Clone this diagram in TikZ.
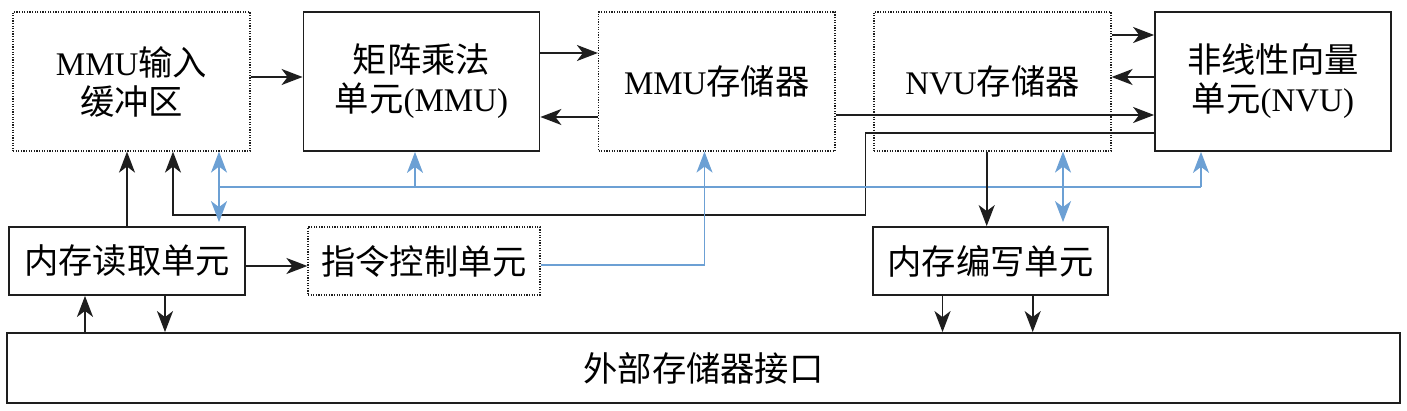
\documentclass[tikz,border=0pt]{standalone}
\usepackage{fontspec}
\setmainfont{Liberation Serif}
\newfontfamily\cjk[Scale=1.04]{Noto Sans CJK SC}
\usetikzlibrary{arrows.meta}
\definecolor{lblue}{RGB}{108,160,212}
\definecolor{dk}{RGB}{30,30,30}
\tikzset{
  solidbox/.style={draw=dk, line width=1.8pt, rectangle, inner sep=0pt, align=center, font=\fontsize{33}{39}\selectfont},
  dotbox/.style={solidbox, line width=1.2pt, dash pattern=on 1.2pt off 1.4pt},
  arr/.style={draw=dk, line width=1.8pt, -{Stealth[length=21pt,width=16pt,inset=6pt]}},
  barr/.style={draw=lblue, line width=1.8pt, -{Stealth[length=21pt,width=16pt,inset=6pt]}},
  bbarr/.style={draw=lblue, line width=1.8pt, {Stealth[length=21pt,width=16pt,inset=6pt]}-{Stealth[length=21pt,width=16pt,inset=6pt]}},
  bline/.style={draw=lblue, line width=1.8pt},
}
\begin{document}
\begin{tikzpicture}[x=1pt,y=-1pt]
\useasboundingbox (0,0) rectangle (1407,411);
\node[dotbox, minimum width=237pt, minimum height=139pt] (mmuin) at (131.5,81.5) {MMU{\cjk 输入}\\{\cjk 缓冲区}};
\node[solidbox, minimum width=236pt, minimum height=139pt] (mmu) at (421.5,81.5) {{\cjk 矩阵乘法}\\{\cjk 单元}(MMU)};
\node[dotbox, minimum width=236.5pt, minimum height=139pt] (mmumem) at (716.75,81.5) {MMU{\cjk 存储器}};
\node[dotbox, minimum width=237pt, minimum height=139pt] (nvumem) at (992.5,81.5) {NVU{\cjk 存储器}};
\node[solidbox, minimum width=236pt, minimum height=139pt] (nvu) at (1273,81.5) {{\cjk 非线性向量}\\{\cjk 单元}(NVU)};
\node[solidbox, minimum width=236pt, minimum height=68pt] (rd) at (127,261) {\cjk 内存读取单元};
\node[dotbox, minimum width=232pt, minimum height=68pt] (ctrl) at (424,261) {\cjk 指令控制单元};
\node[solidbox, minimum width=235pt, minimum height=68pt] (wr) at (990.5,261) {\cjk 内存编写单元};
\node[solidbox, minimum width=1393pt, minimum height=70pt] (ext) at (703.5,368) {\cjk 外部存储器接口};
% top row
\draw[arr] ([yshift=4.5pt]mmuin.east) -- ([yshift=4.5pt]mmu.west);
\draw[arr] ([yshift=28.5pt]mmu.east) -- ([yshift=28.5pt]mmumem.west);
\draw[arr] ([yshift=-35.5pt]mmumem.west) -- ([yshift=-35.5pt]mmu.east);
\draw[arr] ([yshift=46.5pt]nvumem.east) -- ([yshift=46.5pt]nvu.west);
\draw[arr] ([yshift=4.5pt]nvu.west) -- ([yshift=4.5pt]nvumem.east);
\draw[arr] ([yshift=-33.5pt]mmumem.east) -- ([yshift=-33.5pt]nvu.west);
% feedback from NVU to MMU input
\coordinate (g1) at (865.5,215);
\draw[arr] ([yshift=-51.5pt]nvu.west) -| (g1) -| ([xshift=41.5pt]mmuin.south);
% read unit to mmu input
\draw[arr] (rd.north) -- (rd.north |- mmuin.south);
% blue bus
\coordinate (b0) at (219,187);
\coordinate (b1) at (1201,187);
\draw[bbarr] ([xshift=87.5pt]mmuin.south) -- ([xshift=87.5pt,yshift=4pt]mmuin.south |- rd.north);
\draw[bline] (b0) -- (b1);
\draw[barr] (b1) -- (b1 |- nvu.south);
\draw[barr] ([xshift=-6.5pt]mmu.south |- b0) -- ([xshift=-6.5pt]mmu.south);
% control to MMU memory
\coordinate (c1) at (704.5,265);
\draw[barr] ([yshift=-4pt]ctrl.east) -- (c1) -- (c1 |- mmumem.south);
% read to control
\draw[arr] ([yshift=-5pt]rd.east) -- ([yshift=-5pt]ctrl.west);
% NVU memory to write unit
\draw[arr] ([xshift=-5.8pt]nvumem.south) -- ([xshift=-5.8pt]nvumem.south |- wr.north);
\draw[bbarr] ([xshift=70.5pt]nvumem.south) -- ([xshift=70.5pt,yshift=4pt]nvumem.south |- wr.north);
% external interface
\draw[arr] ([xshift=-42pt]rd.south |- ext.north) -- ([xshift=-42pt]rd.south);
\draw[arr] ([xshift=38pt]rd.south) -- ([xshift=38pt]rd.south |- ext.north);
\draw[arr] ([xshift=-48pt]wr.south) -- ([xshift=-48pt]wr.south |- ext.north);
\draw[arr] ([xshift=42.2pt]wr.south) -- ([xshift=42.2pt]wr.south |- ext.north);
\end{tikzpicture}
\end{document}
